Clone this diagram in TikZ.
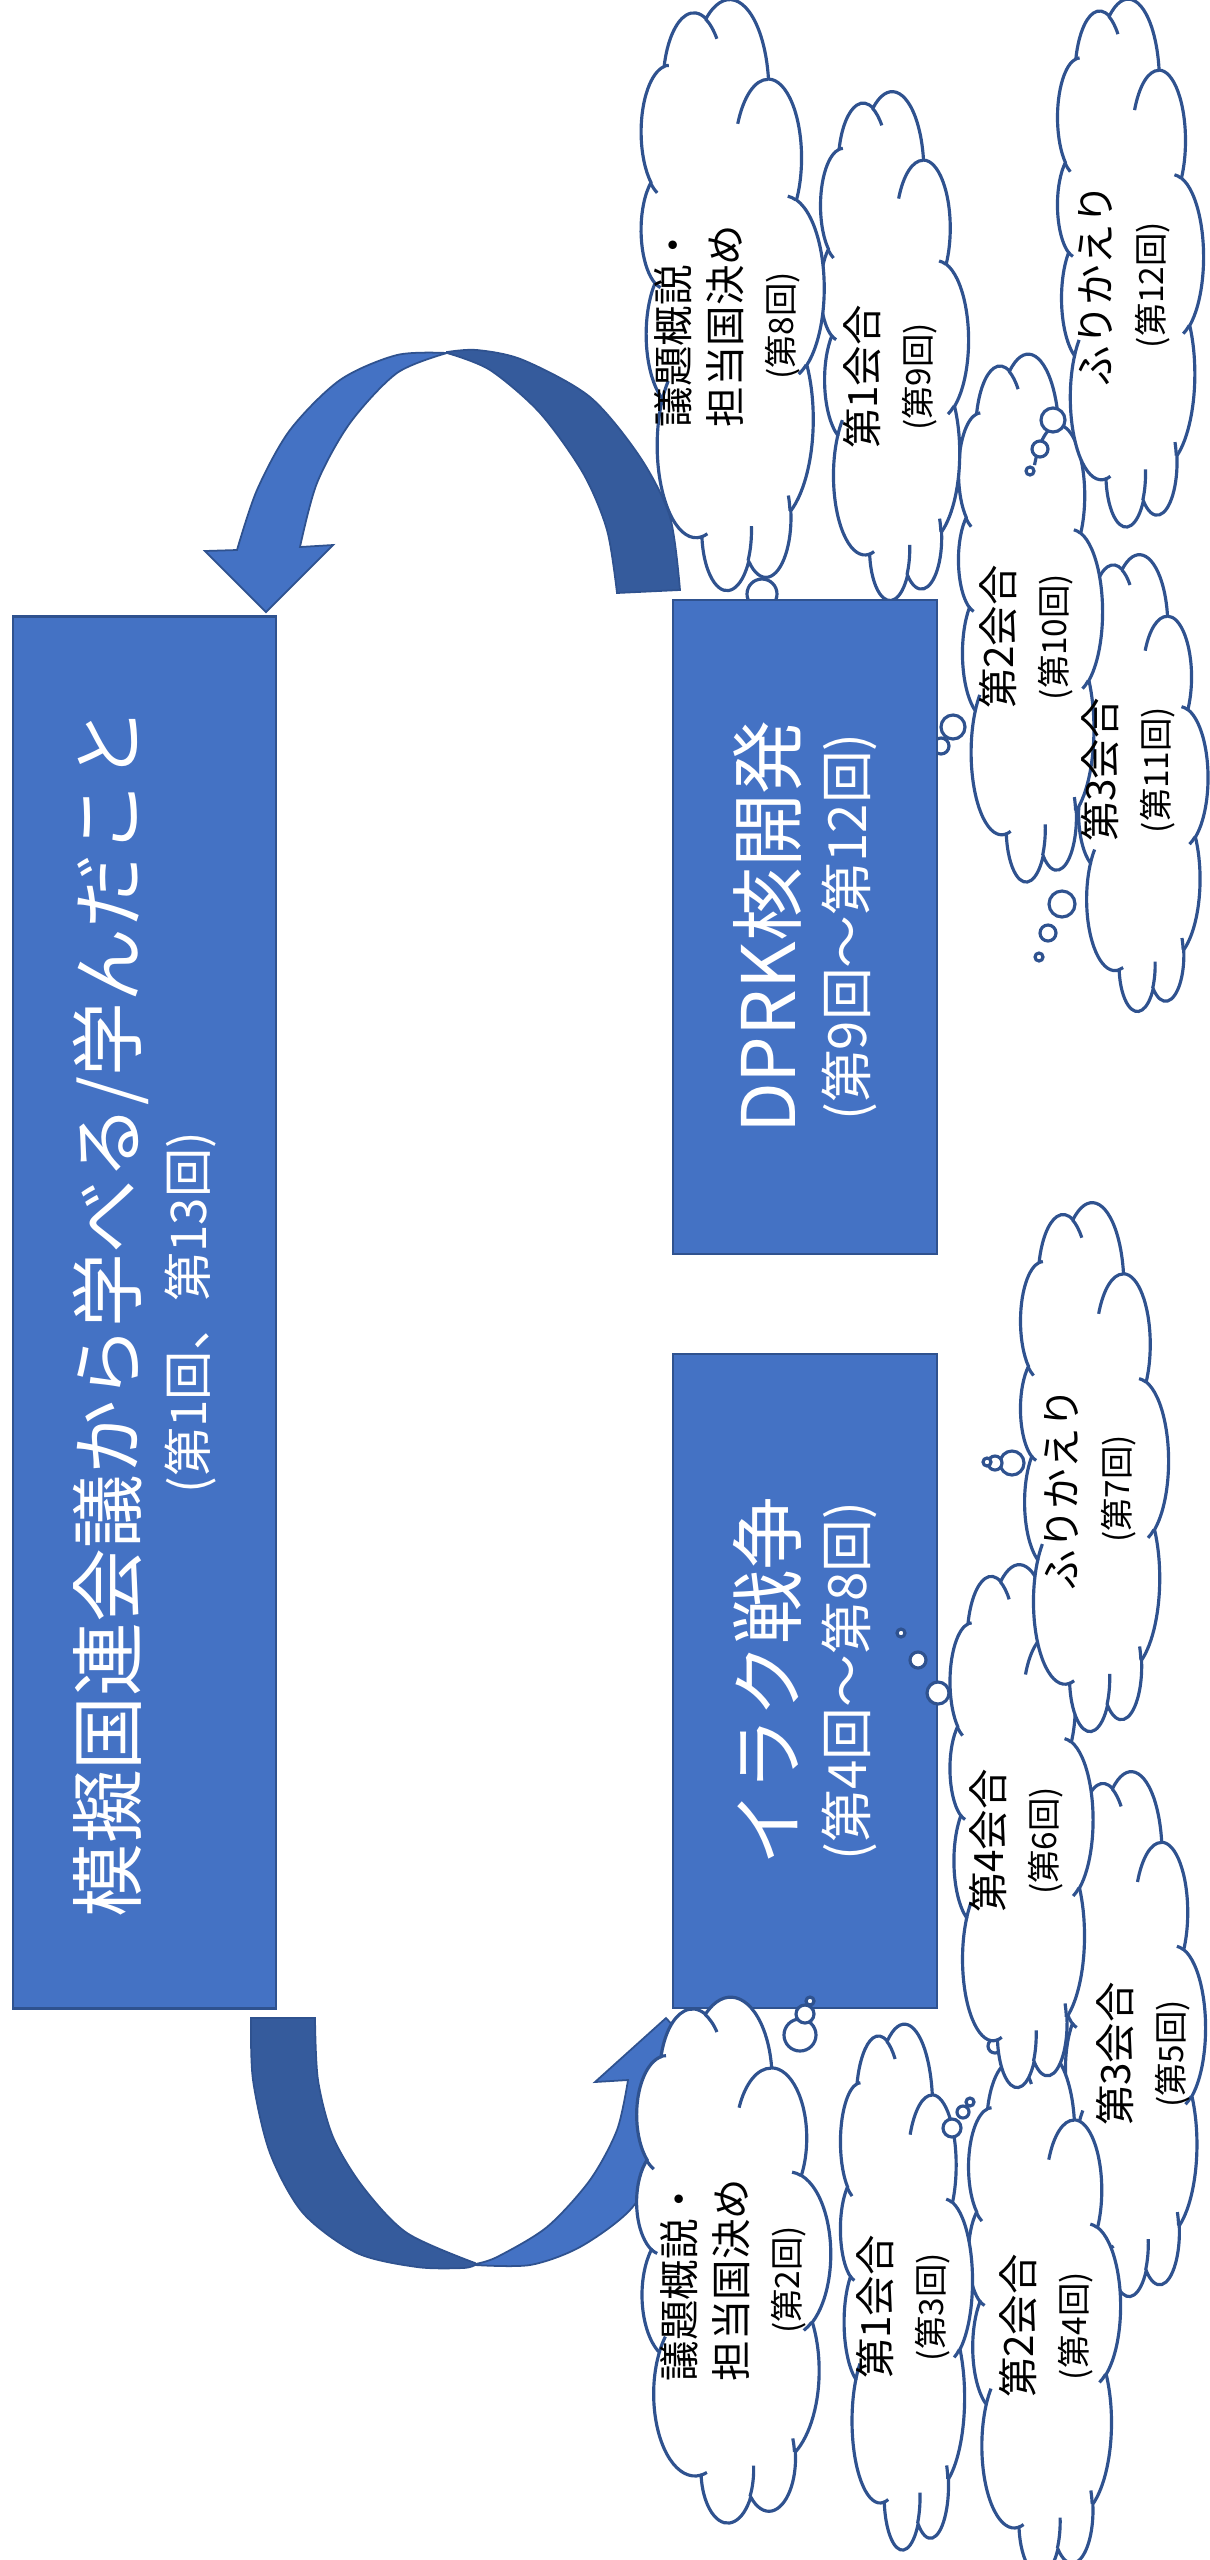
\documentclass[tikz,border=0pt]{standalone}
\usepackage{fontspec}
\setmainfont{Noto Sans CJK JP}
\definecolor{accentblue}{RGB}{68, 114, 196}
\definecolor{accentline}{RGB}{47, 82, 143}
\definecolor{accentshade}{RGB}{53, 91, 156}
\newcommand{\sessionno}[1]{{\fontsize{9.5}{12}\selectfont (第#1回)}}

\tikzset{
  mainbox/.style={draw=accentline, line width=0.7pt, fill=accentblue, text=white, rotate=90,
                  align=center, inner sep=0pt, font=\fontsize{21}{20}\selectfont},
  cloudline/.style={draw=accentline, line width=0.9pt, fill=white},
  cloudhook/.style={draw=accentline, line width=0.9pt},
  thoughttext/.style={rotate=90, align=center, font=\fontsize{11.5}{15}\selectfont},
  bubble/.style={draw=accentline, line width=0.9pt, fill=white},
  frontband/.style={draw=accentline, line width=0.5pt, fill=accentblue},
  backband/.style={draw=accentline, line width=0.5pt, fill=accentshade},
  % cloud outline, turned a quarter left: #1 = half length (up), #2 = half width (right)
  pics/thought/.style 2 args={code={
    \begin{scope}[x={(0cm,#1)}, y={(#2,0cm)}]
      \filldraw[cloudline] (-0.81944,-0.33472)
          arc[start angle=-187.745, end angle=-59.634, x radius=0.31264, y radius=0.42546]
          arc[start angle=-152.02,  end angle=-45.432, x radius=0.24690, y radius=0.33644]
          arc[start angle=-153.49,  end angle=-37.32,  x radius=0.20208, y radius=0.27523]
          arc[start angle=-139.69,  end angle=-10.21,  x radius=0.22486, y radius=0.30532]
          arc[start angle=-74.77,   end angle=23.21,   x radius=0.24690, y radius=0.33671]
          arc[start angle=-37.52,   end angle=81.86,   x radius=0.31366, y radius=0.42685]
          arc[start angle=0.46,     end angle=121.98,  x radius=0.26782, y radius=0.36421]
          arc[start angle=16.85,    end angle=146.24,  x radius=0.31259, y radius=0.42662]
          arc[start angle=58.98,    end angle=150.19,  x radius=0.35741, y radius=0.48810]
          arc[start angle=83.31,    end angle=223.13,  x radius=0.20185, y radius=0.27398]
          arc[start angle=120.35,   end angle=264.11,  x radius=0.20116, y radius=0.27523] -- cycle;
      \draw[cloudhook] (-0.78273, 0.21190) arc[start angle=85.55,   end angle=120.35,  x radius=0.20116, y radius=0.27523];
      \draw[cloudhook] (-0.67926, 0.61569) arc[start angle=68.23,   end angle=83.31,   x radius=0.20185, y radius=0.27398];
      \draw[cloudhook] (-0.23713, 0.80972) arc[start angle=146.24,  end angle=158.47,  x radius=0.31259, y radius=0.42662];
      \draw[cloudhook] ( 0.33458, 0.60884) arc[start angle=4.74,    end angle=16.85,   x radius=0.31259, y radius=0.42662];
      \draw[cloudhook] ( 0.58005, 0.06269) arc[start angle=-64.03,  end angle=0.46,    x radius=0.26782, y radius=0.36421];
      \draw[cloudhook] ( 0.93509,-0.28917) arc[start angle=23.21,   end angle=49.63,   x radius=0.24690, y radius=0.33671];
      \draw[cloudhook] ( 0.77426,-0.74880) arc[start angle=-10.21,  end angle=0.82,    x radius=0.22486, y radius=0.30532];
      \draw[cloudhook] ( 0.34620,-0.81704) arc[start angle=-156.28, end angle=-139.69, x radius=0.22486, y radius=0.30532];
      \draw[cloudhook] ( 0.02505,-0.78148) arc[start angle=-167.72, end angle=-153.49, x radius=0.20208, y radius=0.27523];
      \draw[cloudhook] (-0.35185,-0.75963) arc[start angle=-59.63,  end angle=-45.71,  x radius=0.31264, y radius=0.42546];
      \draw[cloudhook] (-0.80894,-0.26903) arc[start angle=163.19,  end angle=172.255, x radius=0.31264, y radius=0.42546];
    \end{scope}
  }}
}

\begin{document}
\begin{tikzpicture}[x=0.01cm, y=-0.01cm]
    \useasboundingbox (0,0) rectangle (1210,2560);

    % clouds above the DPRK box
    \pic at (1141, 783) {thought={2.28cm}{0.665cm}};
    \pic at (1030, 618) {thought={2.635cm}{0.72cm}};
    \pic at (1130, 263) {thought={2.635cm}{0.73cm}};
    \pic at ( 894, 346) {thought={2.54cm}{0.74cm}};
    \pic at ( 732, 295) {thought={2.95cm}{0.915cm}};
    \filldraw[bubble] (1053, 420) circle (12);
    \filldraw[bubble] (1040, 449) circle ( 8);
    \filldraw[bubble] (1030, 471) circle ( 4);
    \filldraw[bubble] (1062, 904) circle (13);
    \filldraw[bubble] (1048, 933) circle ( 8);
    \filldraw[bubble] (1039, 957) circle ( 4);
    \filldraw[bubble] ( 953, 727) circle (12);
    \filldraw[bubble] ( 941, 746) circle ( 8);
    \filldraw[bubble] ( 762, 594) circle (15);
    \node[thoughttext] (brief8t)   at ( 727, 326) {議題概説・\\担当国決め\\\sessionno{8}};
    \node[thoughttext] (meet9t)    at ( 890, 377) {第1会合\\\sessionno{9}};
    \node[thoughttext] (review12t) at (1124, 285) {ふりかえり\\\sessionno{12}};
    \node[thoughttext] (meet10t)   at (1026, 637) {第2会合\\\sessionno{10}};
    \node[thoughttext] (meet11t)   at (1128, 770) {第3会合\\\sessionno{11}};

    \node[mainbox, minimum width=6.54cm, minimum height=2.64cm] (dprk) at (805, 927)
        {DPRK核開発\\{\fontsize{15}{18}\selectfont (第9回～第12回)}};

    % curved arrow: DPRK -> lessons
    \filldraw[backband]  plot[smooth] coordinates {(617,593) (607,530) (583,473) (540,413) (490,370) (447,353)}
                      -- plot[smooth] coordinates {(447,352) (477,350) (523,360) (590,397) (640,457) (670,517) (680,590)} -- cycle;
    \filldraw[frontband] plot[smooth] coordinates {(447,353) (397,355) (340,380) (290,430) (257,490) (237,550)}
                      -- (205,551) -- (266,612) -- (333,545)
                      -- plot[smooth] coordinates {(300,547) (317,483) (350,423) (397,373) (447,353)} -- cycle;

    \node[mainbox, minimum width=13.91cm, minimum height=2.63cm] (lessons) at (144.5, 1312.5)
        {模擬国連会議から学べる/学んだこと\\{\fontsize{14}{16}\selectfont (第1回、第13回)}};

    \node[mainbox, minimum width=6.54cm, minimum height=2.64cm] (iraq) at (805, 1681)
        {イラク戦争\\{\fontsize{15}{18}\selectfont (第4回～第8回)}};

    % curved arrow: lessons -> Iraq
    \filldraw[backband]  plot[smooth] coordinates {(251,2018) (253,2080) (270,2153) (303,2213) (357,2253) (417,2267) (463,2268) (475,2265)}
                      -- plot[smooth] coordinates {(475,2263) (407,2233) (363,2187) (333,2137) (318,2080) (315,2018)} -- cycle;
    \filldraw[frontband] plot[smooth] coordinates {(475,2265) (530,2265) (580,2247) (630,2210) (663,2157) (692,2080)}
                      -- (723,2081) -- (666,2018) -- (595,2082)
                      -- plot[smooth] coordinates {(628,2080) (617,2130) (590,2180) (547,2227) (497,2257) (475,2264)} -- cycle;

    % clouds below the Iraq box
    \filldraw[bubble] ( 995,2046) circle ( 7);
    \pic at (1133, 2034) {thought={2.62cm}{0.72cm}};
    \pic at (1044, 2312) {thought={2.625cm}{0.76cm}};
    \pic at ( 906, 2287) {thought={2.625cm}{0.66cm}};
    \pic at ( 733, 2260) {thought={2.625cm}{0.97cm}};
    \pic at (1021, 1826) {thought={2.61cm}{0.715cm}};
    \pic at (1094, 1467) {thought={2.64cm}{0.74cm}};
    \filldraw[bubble] (1012,1463) circle (12);
    \filldraw[bubble] ( 995,1463) circle ( 7);
    \filldraw[bubble] ( 987,1462) circle ( 4);
    \filldraw[bubble] ( 938,1693) circle (11);
    \filldraw[bubble] ( 918,1660) circle ( 8);
    \filldraw[bubble] ( 901,1633) circle ( 4);
    \filldraw[bubble] ( 800,2035) circle (16);
    \filldraw[bubble] ( 805,2014) circle ( 9);
    \filldraw[bubble] ( 810,2001) circle ( 4);
    \filldraw[bubble] ( 952,2128) circle ( 9);
    \filldraw[bubble] ( 963,2112) circle ( 6);
    \filldraw[bubble] ( 970,2102) circle ( 4);
    \node[thoughttext] (review7t) at (1090, 1489) {ふりかえり\\\sessionno{7}};
    \node[thoughttext] (meet6t)   at (1016, 1841) {第4会合\\\sessionno{6}};
    \node[thoughttext] (meet5t)   at (1143, 2054) {第3会合\\\sessionno{5}};
    \node[thoughttext] (brief2t)  at ( 733, 2280) {議題概説・\\担当国決め\\\sessionno{2}};
    \node[thoughttext] (meet3t)   at ( 903, 2307) {第1会合\\\sessionno{3}};
    \node[thoughttext] (meet4t)   at (1046, 2326) {第2会合\\\sessionno{4}};
\end{tikzpicture}
\end{document}
